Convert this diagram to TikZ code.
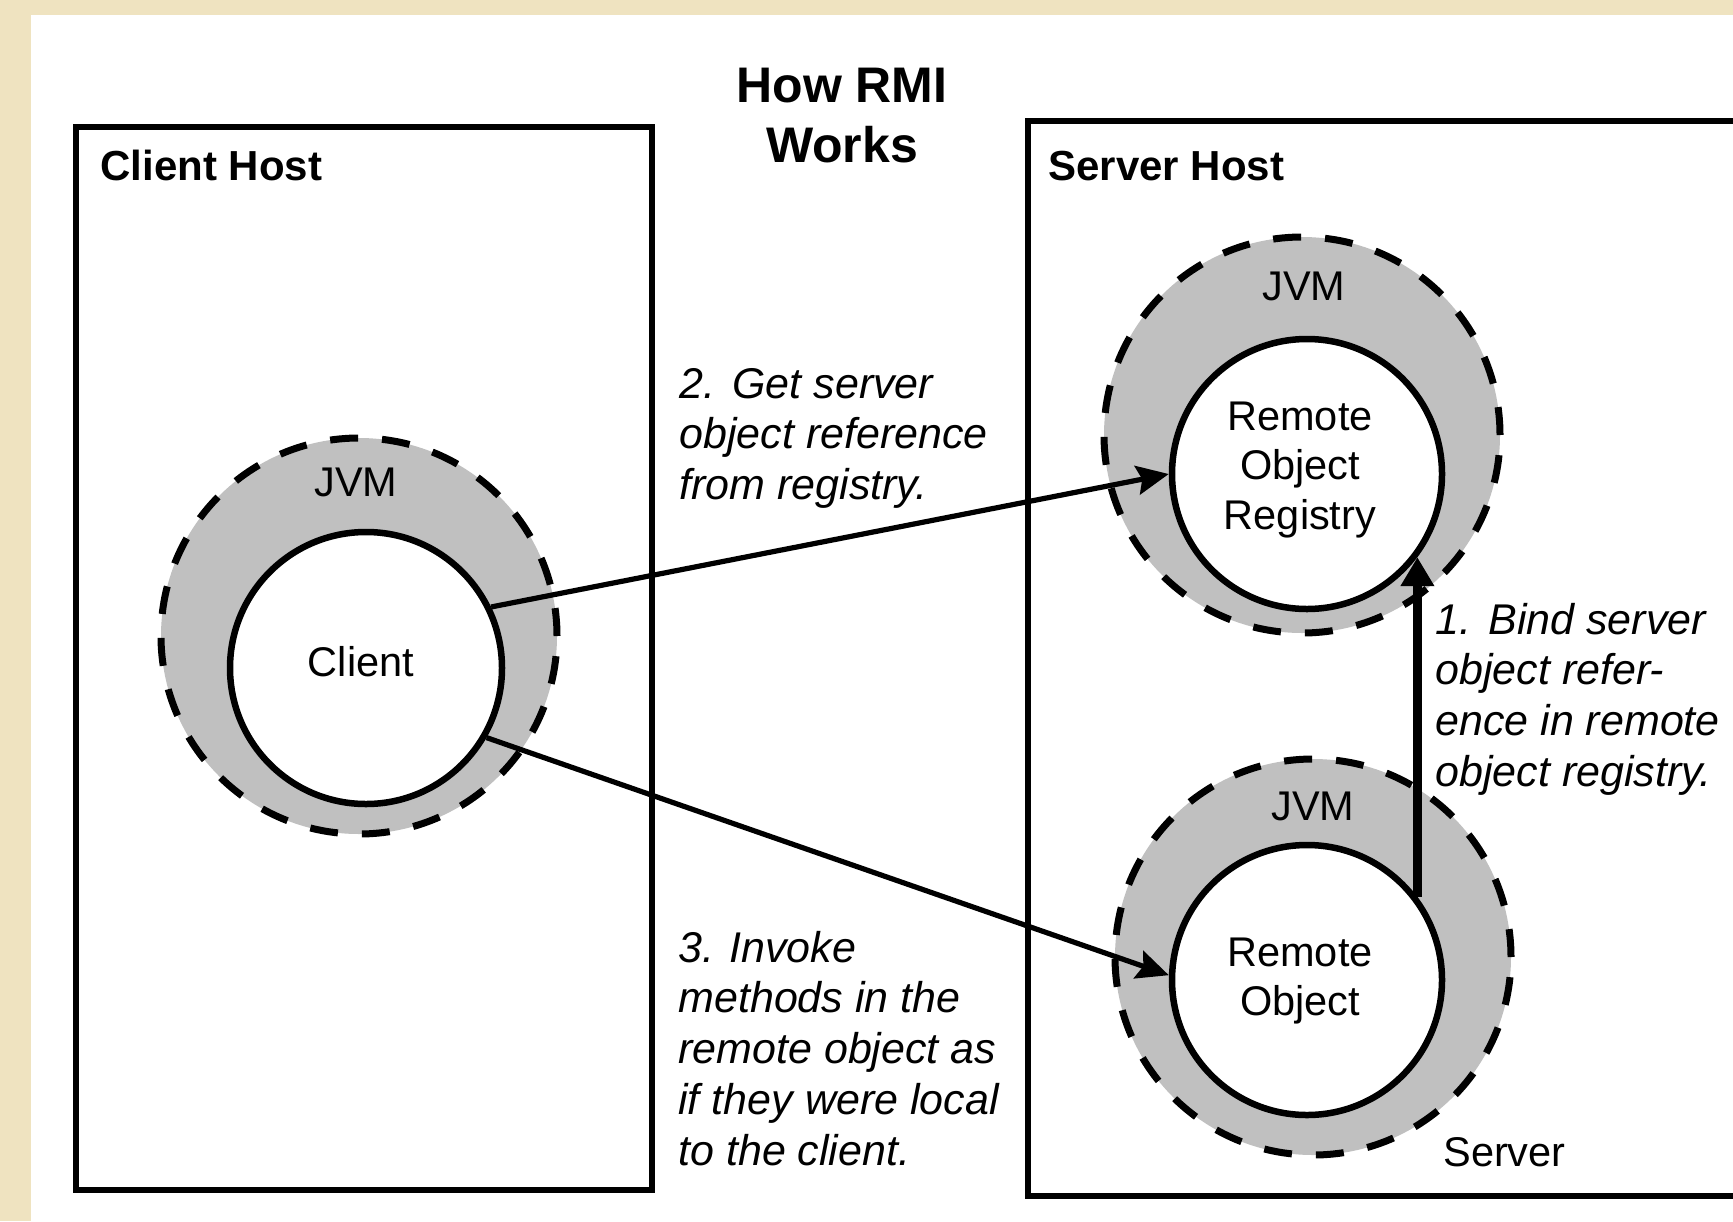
\documentclass[tikz,border=0pt]{standalone}
\usepackage{fontspec}
\setmainfont{Liberation Sans}
\usetikzlibrary{arrows.meta}
\definecolor{parchment}{HTML}{EFE3C0}
\definecolor{jvmgrey}{HTML}{C0C0C0}
\newcommand{\lines}[2]{\begin{tabular}[t]{@{}#1@{}}#2\end{tabular}}
\begin{document}
\begin{tikzpicture}[x=0.5pt,y=-0.5pt,
  hostbox/.style={draw, rectangle, line width=3pt, inner sep=0pt},
  jvmring/.style={circle, draw, fill=jvmgrey, line width=3.5pt,
    dash pattern=on 14pt off 12pt, inner sep=0pt},
  objcircle/.style={circle, draw, fill=white, line width=3.25pt, inner sep=0pt},
  titletext/.style={inner sep=0pt, anchor=base, font=\fontsize{25pt}{30pt}\selectfont\bfseries},
  hosttext/.style={inner sep=0pt, anchor=base west, font=\fontsize{21pt}{25pt}\selectfont\bfseries},
  plaintext/.style={inner sep=0pt, anchor=base, font=\fontsize{20.75pt}{24.75pt}\selectfont},
  notetext/.style={inner sep=0pt, anchor=base west, font=\fontsize{21.5pt}{25.4pt}\selectfont\itshape},
  callarrow/.style={line width=2.6pt, -{Stealth[length=16pt,width=14.5pt,inset=2.5pt]}},
  bindarrow/.style={line width=4.25pt, -{Triangle[length=14.5pt,width=16pt]}}
]
\useasboundingbox (0,0) rectangle (1733,1221);

% page: parchment edge and white sheet
\fill[parchment] (0,0) rectangle (1733,1221);
\fill[white] (31,15) rectangle (1733,1221);

% title
\node[titletext] (title) at (842,102) {\lines{c}{How RMI\\Works}};

% host boxes
\node[hostbox, minimum width=288pt, minimum height=531.5pt] (clienthost) at (364,658.5) {};
\begin{scope}
  \clip (0,0) rectangle (1733,1221);
  \node[hostbox, minimum width=386pt, minimum height=537.5pt] (serverhost) at (1414,658.5) {};
\end{scope}
\node[hosttext] (clientlabel) at (100,180) {Client Host};
\node[hosttext] (serverlabel) at (1048,180) {Server Host};

% client JVM
\node[jvmring, minimum size=198pt] (cjvm) at (359,636) {};
\node[objcircle, minimum size=136pt] (cin) at (366,668) {};
\node[plaintext] (cjvmlabel) at (356,496) {JVM};
\node[plaintext] (cinlabel) at (361,676) {Client};

% registry JVM
\node[jvmring, minimum size=198pt] (rjvm) at (1302,435) {};
\node[objcircle, minimum size=135pt] (regin) at (1307,474) {};
\node[plaintext] (rjvmlabel) at (1304,300) {JVM};
\node[plaintext] (reginlabel) at (1300,430) {\lines{c}{Remote\\Object\\Registry}};

% server object JVM
\node[jvmring, minimum size=198pt] (ojvm) at (1313,957) {};
\node[objcircle, minimum size=135pt] (robj) at (1307,980) {};
\node[plaintext] (ojvmlabel) at (1313,820) {JVM};
\node[plaintext] (robjlabel) at (1300,966) {\lines{c}{Remote\\Object}};
\node[plaintext, anchor=base west] (serverword) at (1443,1166) {Server};

% step notes
\node[notetext] (note2) at (679,398) {\lines{l}{2.\hspace{0.4em}Get server\\object reference\\from registry.}};
\node[notetext] (note1) at (1435,634) {\lines{l}{1.\hspace{0.4em}Bind server\\object refer-\\ence in remote\\object registry.}};
\node[notetext] (note3) at (678,962) {\lines{l}{3.\hspace{0.35em}Invoke\\methods in the\\remote object as\\if they were local\\to the client.}};

% connectors
\draw[callarrow] (cin.26) -- (regin.west);
\draw[callarrow] (cin.-30) -- (robj.178);
\draw[bindarrow] (robj.37.5) -- (regin.-37.5);
\end{tikzpicture}
\end{document}
